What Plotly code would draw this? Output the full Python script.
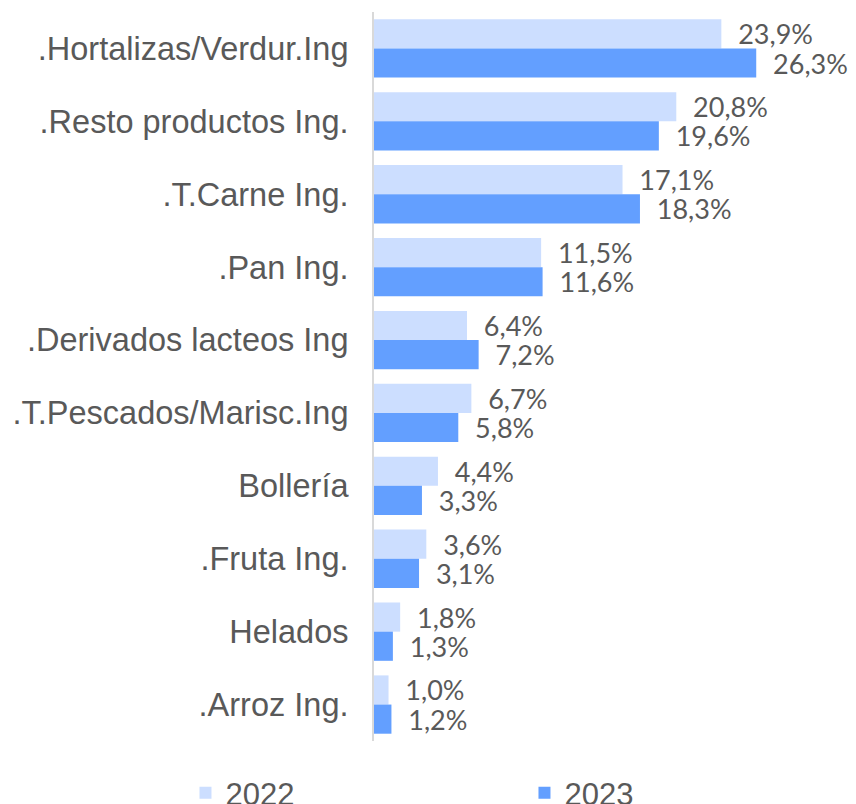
import plotly.graph_objects as go

categories = [".Hortalizas/Verdur.Ing", ".Resto productos Ing.", ".T.Carne Ing.", ".Pan Ing.",
              ".Derivados lacteos Ing", ".T.Pescados/Marisc.Ing", "Bollería", ".Fruta Ing.",
              "Helados", ".Arroz Ing."]
values_2022 = [23.9, 20.8, 17.1, 11.5, 6.4, 6.7, 4.4, 3.6, 1.8, 1.0]
values_2023 = [26.3, 19.6, 18.3, 11.6, 7.2, 5.8, 3.3, 3.1, 1.3, 1.2]
series_names = ["2022", "2023"]
colors = ["#CCDEFF", "#639FFF"]

def fmt(v):
    return "\u00a0\u00a0" + f"{v:.1f}".replace(".", ",") + "%"

fig = go.Figure()
for name, vals, col in zip(series_names, [values_2022, values_2023], colors):
    fig.add_trace(go.Bar(
        y=categories, x=vals, name=name, orientation="h",
        marker=dict(color=col, line=dict(width=0)),
        text=[fmt(v) for v in vals], textposition="outside",
        textfont=dict(family="Lato", size=27, color="#595959"),
        constraintext="none", cliponaxis=False,
    ))

fig.update_layout(
    width=856, height=804,
    margin=dict(l=366, r=54, t=4, b=71, autoexpand=False),
    paper_bgcolor="white", plot_bgcolor="white",
    barmode="group", bargap=0.2, bargroupgap=0,
    xaxis=dict(range=[0, 30], showgrid=False, showticklabels=False, zeroline=False,
               showline=False, fixedrange=True, automargin=False),
    yaxis=dict(autorange="reversed", showline=True, linecolor="#D9D9D9", linewidth=2,
               showgrid=False, ticks="", ticklabelstandoff=17, automargin=False,
               tickfont=dict(family="Liberation Sans, Arial", size=32.5, color="#595959")),
    legend=dict(orientation="h", xref="paper", yref="paper",
                x=-0.4324, y=-0.0713, xanchor="left", yanchor="middle",
                entrywidth=294, entrywidthmode="pixels",
                bgcolor="rgba(0,0,0,0)",
                font=dict(family="Liberation Sans, Arial", size=31, color="#595959"),
                itemwidth=30, tracegroupgap=0),
    showlegend=True,
)

fig.write_html("out.html")
